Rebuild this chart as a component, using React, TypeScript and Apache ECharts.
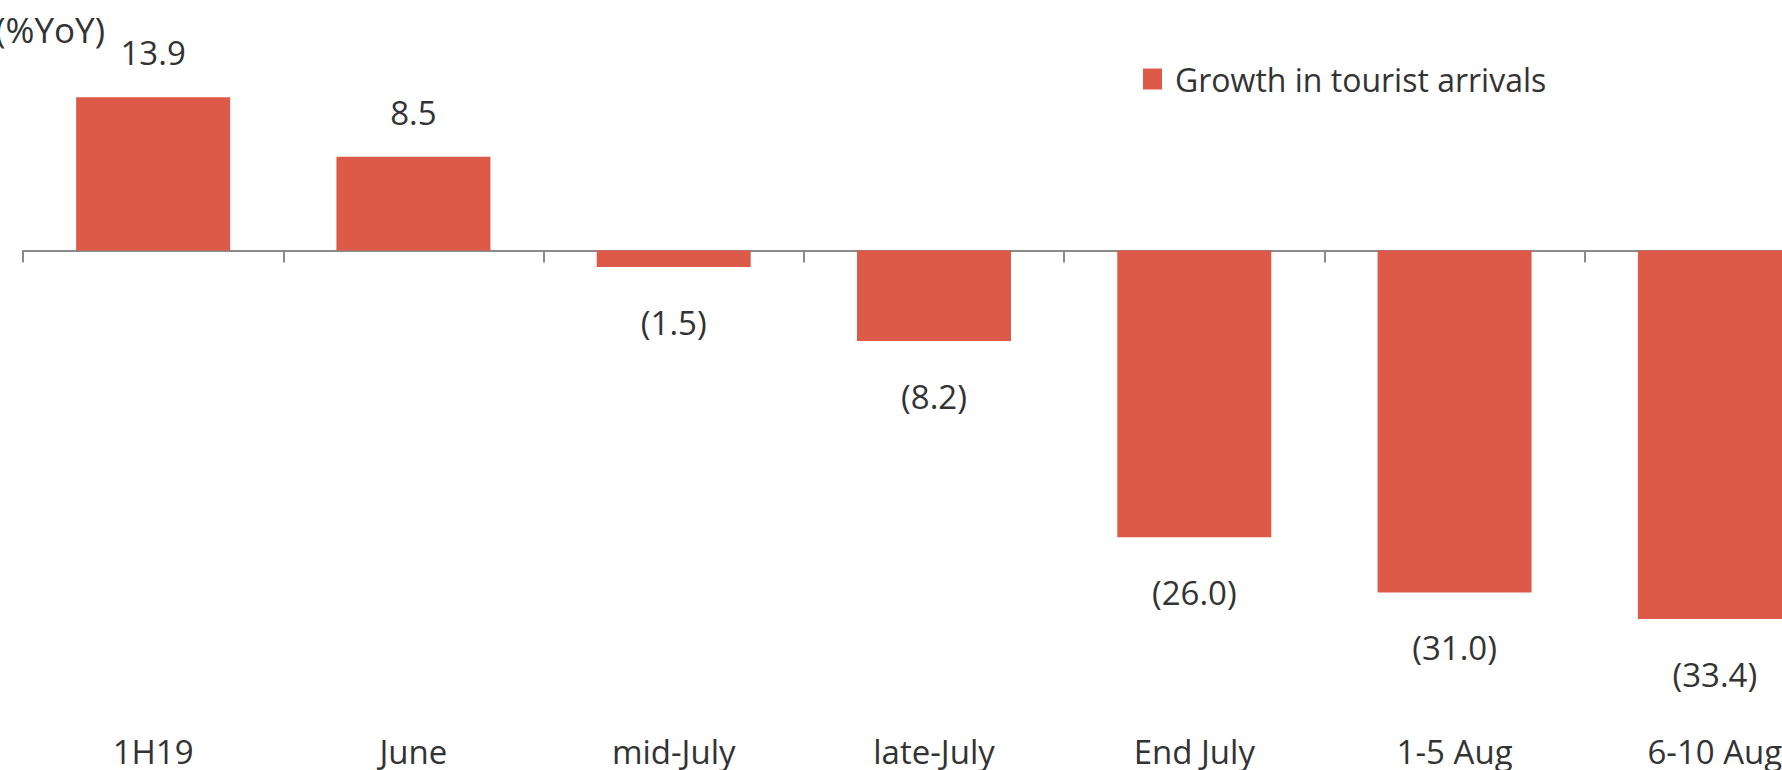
import React, { useEffect, useRef } from "react";
import * as echarts from "echarts";

const categories = ["1H19", "June", "mid-July", "late-July", "End July", "1-5 Aug", "6-10 Aug"];
const growthValues = [13.9, 8.5, -1.5, -8.2, -26.0, -31.0, -33.4];
const seriesName = "Growth in tourist arrivals";
const unitLabel = "(%YoY)";

const FONT = "'Open Sans', 'Noto Sans', sans-serif";
const TEXT = "#333333";
const BAR = "#DE5A48";

export default function App() {
  const ref = useRef<HTMLDivElement>(null);
  useEffect(() => {
    if (!ref.current) return;
    document.body.style.margin = "0";
    document.body.style.overflow = "hidden";
    const chart = echarts.init(ref.current, undefined, { renderer: "svg" });
    const fmt = (v: number) => (v < 0 ? `(${Math.abs(v).toFixed(1)})` : v.toFixed(1));
    chart.setOption({
      animation: false,
      backgroundColor: "#ffffff",
      textStyle: { fontFamily: FONT },
      grid: { left: 23, top: 29.9, width: 1822, height: 661.8, outerBoundsMode: "none", containLabel: false },
      legend: {
        data: [seriesName],
        icon: "rect",
        left: 1143,
        top: 63,
        padding: 0,
        itemWidth: 19,
        itemHeight: 21,
        textStyle: { fontFamily: FONT, fontSize: 32, color: TEXT, padding: [0, 0, 0, 8] },
      },
      graphic: [
        {
          type: "text",
          x: 105,
          y: 29,
          style: {
            text: unitLabel,
            font: `35px ${FONT}`,
            fill: TEXT,
            textAlign: "right",
            textVerticalAlign: "middle",
          },
        },
      ],
      xAxis: [
        {
          type: "category",
          data: categories,
          axisLine: { onZero: true, lineStyle: { color: "#8a8a8a", width: 2 } },
          axisTick: { show: true, length: 12, lineStyle: { color: "#8a8a8a", width: 2 } },
          axisLabel: { show: false },
          splitLine: { show: false },
        },
        {
          type: "category",
          data: categories,
          position: "bottom",
          axisLine: { show: false, onZero: false },
          axisTick: { show: false },
          axisLabel: {
            show: true,
            interval: 0,
            margin: 46,
            fontSize: 33,
            lineHeight: 28,
            color: TEXT,
            fontFamily: FONT,
          },
          splitLine: { show: false },
        },
      ],
      yAxis: {
        type: "value",
        min: -40,
        max: 20,
        show: false,
        splitLine: { show: false },
      },
      series: [
        {
          name: seriesName,
          type: "bar",
          xAxisIndex: 0,
          barWidth: 154,
          itemStyle: { color: BAR },
          data: growthValues.map((v) => ({
            value: v,
            label: {
              show: true,
              position: v >= 0 ? "top" : "bottom",
              distance: v >= 0 ? 28 : 39,
            },
          })),
          label: {
            show: true,
            fontSize: 33,
            color: TEXT,
            fontFamily: FONT,
            formatter: (p: any) => fmt(p.value),
          },
        },
      ],
    });
    return () => chart.dispose();
  }, []);
  return (
    <div
      ref={ref}
      style={{ position: "fixed", left: 0, top: 0, width: 1782, height: 770, overflow: "hidden" }}
    />
  );
}
